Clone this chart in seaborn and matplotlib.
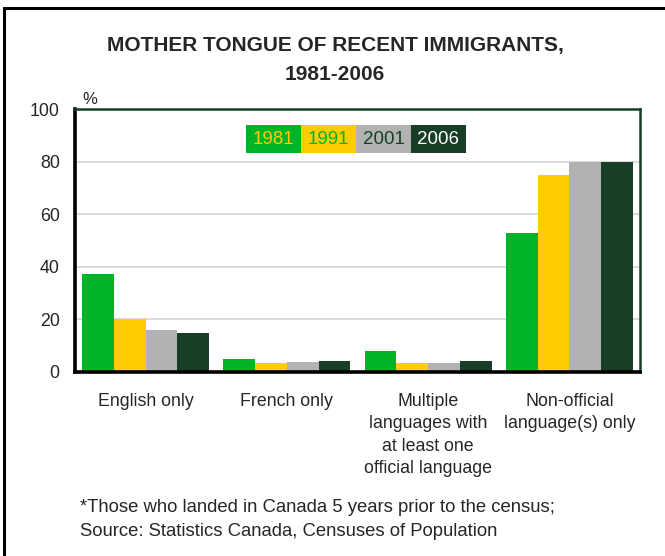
import matplotlib
matplotlib.use("Agg")
import matplotlib.pyplot as plt
from matplotlib.patches import Rectangle
import pandas as pd
import seaborn as sns

categories = ["English only", "French only",
              "Multiple\nlanguages with\nat least one\nofficial language",
              "Non-official\nlanguage(s) only"]
years = ["1981", "1991", "2001", "2006"]
values_1981 = [37.3, 5.0, 8.0, 53.0]
values_1991 = [20.0, 3.4, 3.5, 75.0]
values_2001 = [16.0, 3.8, 3.5, 80.0]
values_2006 = [14.8, 4.2, 4.0, 80.0]
y_ticks = [0, 20, 40, 60, 80, 100]

colors = ["#00B427", "#FFCC00", "#B2B2B2", "#173F25"]
legend_text_colors = ["#FFCC00", "#00B427", "#173F25", "#FFFFFF"]

series = [values_1981, values_1991, values_2001, values_2006]
df = pd.DataFrame(
    [(c, y, v) for y, vals in zip(years, series) for c, v in zip(categories, vals)],
    columns=["category", "year", "value"],
)

sns.set_style("white")
plt.rcParams["font.family"] = ["Liberation Sans", "DejaVu Sans"]

W, H = 665, 556
fig = plt.figure(figsize=(W / 100, H / 100), dpi=100)
ax = fig.add_axes([75 / W, 1 - 372 / H, (640 - 75) / W, (372 - 109) / H])

sns.barplot(data=df, x="category", y="value", hue="year", hue_order=years,
            order=categories, palette=colors, width=0.9, gap=0,
            saturation=1, ax=ax, legend=False, linewidth=0)

ax.set_ylim(0, 100)
ax.set_xlim(-0.5, 3.5)
ax.set_yticks(y_ticks)
ax.set_yticklabels([str(t) for t in y_ticks], fontsize=12.8)
ax.set_xlabel("")
ax.set_ylabel("")
ax.tick_params(axis="y", direction="out", length=6, width=2, color="black", pad=5)
ax.tick_params(axis="x", length=0, pad=15, labelsize=12.8)
for lbl in ax.get_xticklabels():
    lbl.set_linespacing(1.42)
    lbl.set_verticalalignment("top")

for g in y_ticks[1:-1]:
    ax.axhline(g, color="#D4D4D4", linewidth=1.2, zorder=0)
ax.set_axisbelow(True)

for side in ["left", "bottom"]:
    ax.spines[side].set_color("black")
    ax.spines[side].set_linewidth(2.6)
for side in ["top", "right"]:
    ax.spines[side].set_color("#173F25")
    ax.spines[side].set_linewidth(1.8)

# percent unit above the axis
fig.text(82 / W, 1 - 100 / H, "%", fontsize=12, ha="left", va="center")

# title
fig.text(335 / W, 1 - 46 / H, "MOTHER TONGUE OF RECENT IMMIGRANTS,",
         fontsize=15, fontweight="bold", ha="center", va="center")
fig.text(335 / W, 1 - 74 / H, "1981-2006",
         fontsize=15, fontweight="bold", ha="center", va="center")

# legend as coloured blocks
lx0, lw, ly0, lh = 246, 55, 125, 28
for i, (yr, bg, fg) in enumerate(zip(years, colors, legend_text_colors)):
    x0 = lx0 + i * lw
    fig.patches.append(Rectangle((x0 / W, 1 - (ly0 + lh) / H), lw / W, lh / H,
                                 transform=fig.transFigure, facecolor=bg,
                                 edgecolor="none", zorder=3))
    fig.text((x0 + lw / 2) / W, 1 - (ly0 + lh / 2) / H, yr, color=fg,
             fontsize=13.5, ha="center", va="center", zorder=4)

# footnote
fig.text(80 / W, 1 - 508 / H, "*Those who landed in Canada 5 years prior to the census;",
         fontsize=13.3, ha="left", va="center")
fig.text(80 / W, 1 - 532 / H, "Source: Statistics Canada, Censuses of Population",
         fontsize=13.3, ha="left", va="center")

# outer frame
fig.patches.append(Rectangle((4 / W, -0.1), 1.2, 1.1 - 8 / H,
                             transform=fig.transFigure, facecolor="none",
                             edgecolor="black", linewidth=2.2, clip_on=False))

fig.savefig("out.png", dpi=100)
